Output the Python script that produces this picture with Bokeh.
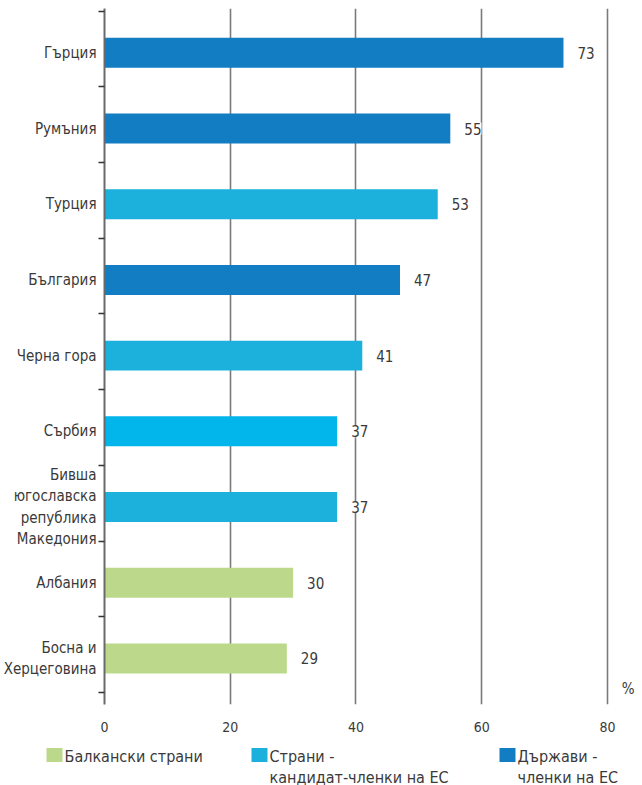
from bokeh.plotting import figure
from bokeh.layouts import column
from bokeh.models import ColumnDataSource, FixedTicker, Range1d, LabelSet, Label
from bokeh.core.properties import value
from bokeh.embed import file_html
from bokeh.resources import INLINE

# ---- data ----
countries = ["Гърция", "Румъния", "Турция", "България", "Черна гора", "Сърбия",
             "Бивша\nюгославска\nрепублика\nМакедония", "Албания", "Босна и\nХерцеговина"]
values = [73, 55, 53, 47, 41, 37, 37, 30, 29]
bar_colors = ["#127DC2", "#127DC2", "#1BB1DC", "#127DC2", "#1BB1DC", "#02B5EA",
              "#1BB1DC", "#BCD98B", "#BCD98B"]
x_ticks = [0, 20, 40, 60, 80]
legend_labels = ["Балкански страни", "Страни -\nкандидат-членки на ЕС", "Държави -\nчленки на ЕС"]
legend_colors = ["#BCD98B", "#1BB1DC", "#127DC2"]

FONT = '"Liberation Sans Narrow", "DejaVu Sans Condensed", sans-serif'
TXT = "#3a3a3a"
W = 642
X_END = 85.57

n = len(countries)
ypos = [n - 1 - i + 0.45 for i in range(n)]
src = ColumnDataSource(dict(y=ypos, v=values, c=bar_colors, lab=[str(v) for v in values]))

p = figure(width=W, height=736, output_backend="svg", toolbar_location=None,
           x_range=Range1d(0, X_END), y_range=Range1d(-0.159, 9.036),
           min_border_left=104, min_border_right=0, min_border_top=8, min_border_bottom=32)
p.outline_line_color = None
p.frame_align = False

p.hbar(y="y", right="v", left=0, height=0.396, color="c", source=src, line_color=None)

# grid
p.ygrid.grid_line_color = None
p.xgrid.ticker = FixedTicker(ticks=x_ticks)
p.xgrid.grid_line_color = "#7a7a7a"
p.xgrid.grid_line_width = 1.6
p.xgrid.level = "underlay"

# x axis
p.xaxis.ticker = FixedTicker(ticks=x_ticks)
p.xaxis.axis_line_color = None
p.xaxis.major_tick_line_color = None
p.xaxis.minor_tick_line_color = None
p.xaxis.major_label_standoff = 11
p.xaxis.major_label_text_font = FONT
p.xaxis.major_label_text_font_size = "14px"
p.xaxis.major_label_text_color = TXT

# y axis
p.yaxis.ticker = FixedTicker(ticks=ypos, minor_ticks=list(range(n + 1)))
p.yaxis.major_label_overrides = {y: c for y, c in zip(ypos, countries)}
p.yaxis.major_tick_out = 0
p.yaxis.major_tick_in = 0
p.yaxis.minor_tick_out = 6
p.yaxis.minor_tick_in = 0
p.yaxis.minor_tick_line_color = "#333333"
p.yaxis.minor_tick_line_width = 1.5
p.yaxis.axis_line_color = "#6a6a6a"
p.yaxis.axis_line_width = 2
p.yaxis.major_label_standoff = 2
p.yaxis.major_label_text_font = FONT
p.yaxis.major_label_text_font_size = "15px"
p.yaxis.major_label_text_color = TXT
p.yaxis.major_label_text_align = "right"

# value labels
labels = LabelSet(x="v", y="y", text="lab", source=src, x_offset=14,
                  text_baseline="middle", text_align="left",
                  text_font=value(FONT), text_font_size="15px", text_color=TXT,
                  background_fill_color="white")
p.add_layout(labels)

pct = Label(x=X_END, y=-0.159, text="%", text_align="right", text_baseline="bottom",
            x_offset=-8, y_offset=7, text_font=FONT, text_font_size="15px", text_color=TXT)
p.add_layout(pct)

# ---- legend strip (a small figure whose data units are pixels) ----
LH = 49
lg = figure(width=W, height=LH, output_backend="svg", toolbar_location=None,
            x_range=Range1d(0, W), y_range=Range1d(0, LH),
            min_border=0, x_axis_type=None, y_axis_type=None)
lg.outline_line_color = None
lg.grid.visible = False
lg.frame_align = False
item_x = [46, 251, 499]
line1 = [s.split("\n")[0] for s in legend_labels]
line2 = [s.split("\n")[1] if "\n" in s else "" for s in legend_labels]
lsrc = ColumnDataSource(dict(xs=[x + 8 for x in item_x], xt=[x + 18 for x in item_x],
                             c=legend_colors, l1=line1, l2=line2))
lg.rect(x="xs", y=30.5, width=16, height=14, color="c", line_color=None, source=lsrc)
lg.text(x="xt", y=29.5, text="l1", source=lsrc, text_baseline="middle",
        text_font=value(FONT), text_font_size="16px", text_color=TXT)
lg.text(x="xt", y=8.5, text="l2", source=lsrc, text_baseline="middle",
        text_font=value(FONT), text_font_size="16px", text_color=TXT)

layout = column(p, lg, spacing=0)
open("out.html", "w").write(file_html(layout, INLINE))
